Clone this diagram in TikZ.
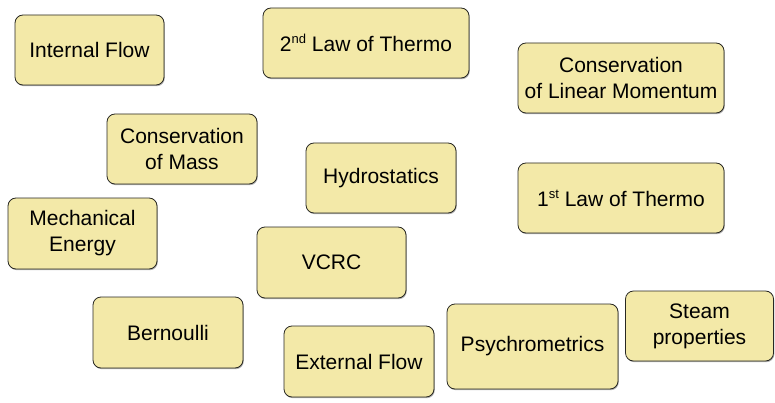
\documentclass[tikz,border=0pt]{standalone}
\usepackage{fontspec}
\setmainfont{Liberation Sans}
\usetikzlibrary{shadows}
\definecolor{boxfill}{RGB}{243,233,168}
\definecolor{boxline}{RGB}{40,40,35}
\newcommand{\ordsup}[1]{\raisebox{8pt}{\fontsize{13}{13}\selectfont #1}}
\begin{document}
\begin{tikzpicture}[x=1pt,y=1pt,
  topic/.style={rectangle, rounded corners=8pt, draw=boxline, line width=0.8pt,
    fill=boxfill, align=center, inner sep=0pt,
    font=\fontsize{21}{26}\selectfont,
    drop shadow={shadow xshift=0.8pt, shadow yshift=-1.2pt, opacity=0.3, fill=black}},
  ]
\useasboundingbox (0,0) rectangle (775,402);
\node[topic, minimum width=149pt, minimum height=70pt] (intflow) at (89.5,352) {Internal Flow};
\node[topic, minimum width=206pt, minimum height=70pt] (law2) at (366,359) {2\ordsup{nd} Law of Thermo};
\node[topic, minimum width=206pt, minimum height=70pt] (linmom) at (621,324) {Conservation\\of Linear Momentum};
\node[topic, minimum width=150pt, minimum height=70pt] (mass) at (182,253) {Conservation\\of Mass};
\node[topic, minimum width=150pt, minimum height=70pt] (hydro) at (381,224) {Hydrostatics};
\node[topic, minimum width=206pt, minimum height=70pt] (law1) at (621,204) {1\ordsup{st} Law of Thermo};
\node[topic, minimum width=149pt, minimum height=71pt] (mech) at (82.5,168.5) {Mechanical\\Energy};
\node[topic, minimum width=149pt, minimum height=71pt] (vcrc) at (331.5,139.5) {VCRC};
\node[topic, minimum width=150pt, minimum height=71pt] (bern) at (168,69.5) {Bernoulli};
\node[topic, minimum width=150pt, minimum height=71pt] (ext) at (359,40.5) {External Flow};
\node[topic, minimum width=171pt, minimum height=85pt] (psy) at (532.5,55.5) {Psychrometrics};
\node[topic, minimum width=148pt, minimum height=70pt] (steam) at (699.5,76) {Steam\\properties};
\end{tikzpicture}
\end{document}
